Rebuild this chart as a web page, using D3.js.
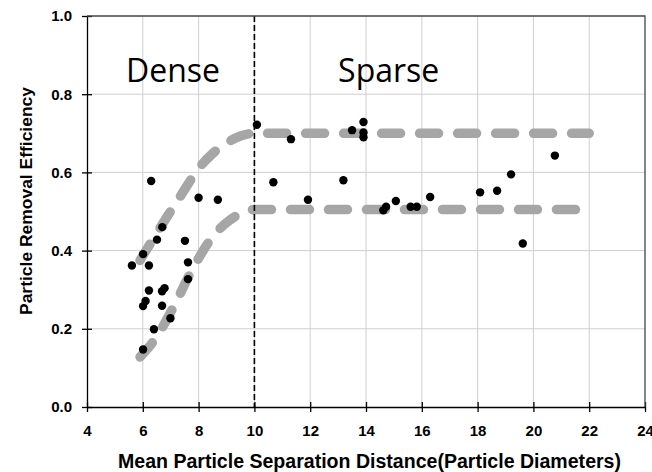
<!DOCTYPE html>
<html>
<head>
<meta charset="utf-8">
<script src="https://cdn.jsdelivr.net/npm/d3@7"></script>
<style>
  body { margin: 0; background: #fff; }
  svg { display: block; }
</style>
</head>
<body>
<svg id="chart" width="652" height="472"></svg>
<script>
// Measured particle removal efficiency vs. mean separation distance
const separationDistance = [
  6.30, 8.00, 8.69, 6.70, 6.51, 7.51, 6.01, 5.61, 6.22, 7.62,
  7.62, 6.22, 6.69, 6.78, 6.01, 6.10, 6.69, 6.99, 6.40, 6.01,
  10.09, 11.31, 13.50, 13.91, 13.91, 13.91, 10.68, 13.19, 11.92, 14.62,
  14.72, 15.07, 15.60, 15.82, 16.30, 18.09, 18.70, 19.20, 20.77, 19.62
];
const removalEfficiency = [
  0.578, 0.535, 0.530, 0.460, 0.428, 0.425, 0.391, 0.362, 0.362, 0.327,
  0.370, 0.298, 0.296, 0.304, 0.258, 0.271, 0.259, 0.227, 0.199, 0.147,
  0.722, 0.685, 0.708, 0.729, 0.702, 0.690, 0.575, 0.580, 0.530, 0.503,
  0.512, 0.527, 0.512, 0.512, 0.537, 0.549, 0.553, 0.595, 0.643, 0.418
];

// Upper and lower envelope trends
const upperTrendX = [5.9, 6.2, 6.9, 7.4, 8.0, 8.5, 9.0, 9.5, 10.0, 22.0];
const upperTrendY = [0.375, 0.41, 0.49, 0.545, 0.61, 0.648, 0.675, 0.693, 0.70, 0.70];
const lowerTrendX = [5.9, 6.5, 7.1, 7.8, 8.5, 9.1, 9.7, 10.0, 22.0];
const lowerTrendY = [0.128, 0.18, 0.256, 0.355, 0.435, 0.477, 0.50, 0.505, 0.505];

// Regime boundary and region names
const regimeBoundary = 10;
const regionNames = ["Dense", "Sparse"];
const regionNameX = [5.4, 13.0];

const xTicks = [4, 6, 8, 10, 12, 14, 16, 18, 20, 22, 24];
const yTicks = [0.0, 0.2, 0.4, 0.6, 0.8, 1.0];
const xTitle = "Mean Particle Separation Distance(Particle Diameters)";
const yTitle = "Particle Removal Efficiency";

const svg = d3.select("#chart");
const plotLeft = 87, plotRight = 645, plotTop = 16, plotBottom = 407;

const x = d3.scaleLinear().domain([4, 24]).range([plotLeft, plotRight]);
const y = d3.scaleLinear().domain([0, 1]).range([plotBottom, plotTop]);

svg.append("rect").attr("width", 652).attr("height", 472).attr("fill", "#fff");

// Grid
const grid = svg.append("g").attr("stroke", "#cfcfcf").attr("stroke-width", 1);
grid.selectAll("line.v").data(xTicks.slice(1, -1)).join("line").attr("class", "v")
  .attr("x1", d => x(d)).attr("x2", d => x(d))
  .attr("y1", plotTop).attr("y2", plotBottom);
grid.selectAll("line.h").data(yTicks.slice(1, -1)).join("line").attr("class", "h")
  .attr("x1", plotLeft).attr("x2", plotRight)
  .attr("y1", d => y(d)).attr("y2", d => y(d));

// Trend envelopes
const trendLine = d3.line().x(d => x(d[0])).y(d => y(d[1])).curve(d3.curveMonotoneX);
const trends = [
  d3.zip(upperTrendX, upperTrendY),
  d3.zip(lowerTrendX, lowerTrendY)
];
svg.append("g").selectAll("path").data(trends).join("path")
  .attr("d", trendLine)
  .attr("fill", "none")
  .attr("stroke", "#a6a6a6")
  .attr("stroke-width", 9.5)
  .attr("stroke-linecap", "round")
  .attr("stroke-dasharray", "19 19");

// Regime boundary
svg.append("line")
  .attr("x1", x(regimeBoundary)).attr("x2", x(regimeBoundary))
  .attr("y1", plotTop).attr("y2", plotBottom)
  .attr("stroke", "#000").attr("stroke-width", 1.6)
  .attr("stroke-dasharray", "6 3");

// Data points
svg.append("g").selectAll("circle").data(d3.zip(separationDistance, removalEfficiency)).join("circle")
  .attr("cx", d => x(d[0])).attr("cy", d => y(d[1]))
  .attr("r", 4.2).attr("fill", "#000");

// Axes
const tickFont = "Liberation Sans, Arial, sans-serif";
const xAxis = svg.append("g").attr("transform", `translate(0,${plotBottom})`)
  .call(d3.axisBottom(x).tickValues(xTicks).tickFormat(d3.format("d")).tickSizeOuter(0));
xAxis.select(".domain").attr("stroke", "#000").attr("stroke-width", 1.3);
xAxis.selectAll(".tick line").attr("y1", -5).attr("y2", 5).attr("stroke", "#000").attr("stroke-width", 1.3);
xAxis.selectAll(".tick text").attr("y", 18).attr("dy", "0.71em")
  .attr("font-family", tickFont).attr("font-weight", "bold").attr("font-size", 15).attr("fill", "#000");

const yAxis = svg.append("g").attr("transform", `translate(${plotLeft},0)`)
  .call(d3.axisLeft(y).tickValues(yTicks).tickFormat(d3.format(".1f")).tickSizeOuter(0));
yAxis.select(".domain").attr("stroke", "#000").attr("stroke-width", 1.3);
yAxis.selectAll(".tick line").attr("x1", -5).attr("x2", 5).attr("stroke", "#000").attr("stroke-width", 1.3);
yAxis.selectAll(".tick text").attr("x", -15)
  .attr("font-family", tickFont).attr("font-weight", "bold").attr("font-size", 15).attr("fill", "#000");

// Frame top and right
svg.append("path")
  .attr("d", `M${plotLeft},${plotTop}H${plotRight}V${plotBottom}`)
  .attr("fill", "none").attr("stroke", "#444").attr("stroke-width", 1.3);

// Region names
svg.append("g").selectAll("text").data(regionNames).join("text")
  .attr("x", (d, i) => x(regionNameX[i])).attr("y", 82)
  .attr("font-family", "Open Sans, sans-serif").attr("font-size", 32)
  .attr("fill", "#000")
  .text(d => d);

// Axis titles
svg.append("text")
  .attr("x", 369.5).attr("y", 467.5)
  .attr("text-anchor", "middle")
  .attr("font-family", tickFont).attr("font-weight", "bold").attr("font-size", 19.5)
  .attr("textLength", 503).attr("lengthAdjust", "spacingAndGlyphs")
  .text(xTitle);

svg.append("text")
  .attr("transform", "translate(32,201) scale(0.9,1) rotate(-90)")
  .attr("text-anchor", "middle")
  .attr("font-family", tickFont).attr("font-weight", "bold").attr("font-size", 17.5)
  .attr("textLength", 228).attr("lengthAdjust", "spacingAndGlyphs")
  .text(yTitle);
</script>
</body>
</html>
